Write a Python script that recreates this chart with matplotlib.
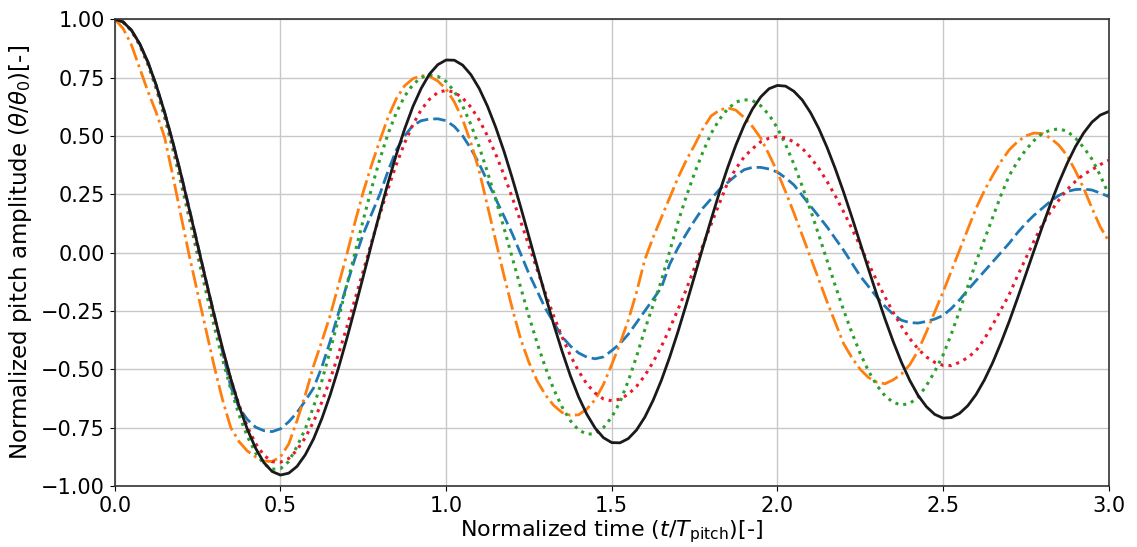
import matplotlib
matplotlib.use("Agg")
import matplotlib.pyplot as plt
import numpy as np

# normalized time grid, step 0.025
t = np.linspace(0, 3.0, 121)

# values, one per time step
blue = [1.0, 0.988, 0.953, 0.894, 0.815, 0.716, 0.602, 0.474, 0.335, 0.188,
        0.035, -0.118, -0.265, -0.425, -0.575, -0.665, -0.715, -0.748, -0.763, -0.767,
        -0.755, -0.725, -0.685, -0.635, -0.58, -0.49, -0.38, -0.26, -0.14, -0.025,
        0.08, 0.165, 0.25, 0.35, 0.44, 0.50, 0.545, 0.565, 0.572, 0.573,
        0.565, 0.54, 0.50, 0.445, 0.38, 0.305, 0.23, 0.155, 0.08, -0.005,
        -0.09, -0.165, -0.24, -0.30, -0.36, -0.40, -0.43, -0.448, -0.455, -0.447,
        -0.42, -0.39, -0.35, -0.30, -0.25, -0.20, -0.15, -0.05, 0.02, 0.08,
        0.137, 0.19, 0.23, 0.27, 0.30, 0.33, 0.355, 0.365, 0.365, 0.358,
        0.345, 0.32, 0.29, 0.245, 0.20, 0.155, 0.11, 0.06, 0.01, -0.045,
        -0.10, -0.145, -0.19, -0.23, -0.265, -0.29, -0.30, -0.302, -0.295, -0.285,
        -0.27, -0.24, -0.203, -0.16, -0.12, -0.08, -0.04, 0.0, 0.04, 0.085,
        0.125, 0.16, 0.19, 0.22, 0.245, 0.262, 0.27, 0.272, 0.268, 0.255,
        0.24]
orange = [1.0, 0.96, 0.89, 0.79, 0.69, 0.60, 0.495, 0.33, 0.155, -0.015,
          -0.173, -0.33, -0.487, -0.63, -0.75, -0.81, -0.85, -0.875, -0.893, -0.895,
          -0.875, -0.82, -0.72, -0.61, -0.485, -0.38, -0.27, -0.14, -0.01, 0.13,
          0.26, 0.375, 0.48, 0.58, 0.66, 0.715, 0.745, 0.758, 0.755, 0.735,
          0.70, 0.645, 0.57, 0.47, 0.35, 0.20, 0.05, -0.10, -0.24, -0.37,
          -0.47, -0.55, -0.61, -0.655, -0.685, -0.697, -0.695, -0.67, -0.63, -0.565,
          -0.48, -0.39, -0.29, -0.17, -0.03, 0.065, 0.15, 0.235, 0.32, 0.395,
          0.46, 0.53, 0.585, 0.61, 0.62, 0.61, 0.578, 0.54, 0.49, 0.42,
          0.345, 0.26, 0.17, 0.075, -0.02, -0.115, -0.21, -0.30, -0.39, -0.45,
          -0.50, -0.535, -0.555, -0.562, -0.545, -0.52, -0.48, -0.42, -0.34, -0.255,
          -0.17, -0.08, 0.01, 0.10, 0.19, 0.265, 0.33, 0.39, 0.44, 0.475,
          0.50, 0.512, 0.51, 0.49, 0.46, 0.415, 0.35, 0.275, 0.19, 0.11,
          0.05]
green = [1.0, 0.987, 0.950, 0.888, 0.805, 0.701, 0.580, 0.443, 0.297, 0.144,
         -0.012, -0.166, -0.317, -0.457, -0.585, -0.695, -0.787, -0.858, -0.906, -0.928,
         -0.926, -0.895, -0.83, -0.755, -0.66, -0.55, -0.42, -0.285, -0.14, 0.0,
         0.14, 0.275, 0.40, 0.51, 0.60, 0.67, 0.72, 0.75, 0.76, 0.755,
         0.733, 0.690, 0.628, 0.548, 0.453, 0.345, 0.228, 0.104, -0.023, -0.149,
         -0.272, -0.388, -0.493, -0.586, -0.661, -0.720, -0.760, -0.778, -0.776, -0.75,
         -0.705, -0.64, -0.55, -0.445, -0.33, -0.225, -0.12, 0.005, 0.13, 0.24,
         0.34, 0.43, 0.51, 0.57, 0.615, 0.645, 0.655, 0.651, 0.629, 0.590,
         0.534, 0.463, 0.379, 0.285, 0.183, 0.076, -0.033, -0.142, -0.246, -0.343,
         -0.431, -0.507, -0.568, -0.614, -0.642, -0.653, -0.646, -0.62, -0.57, -0.51,
         -0.44, -0.35, -0.25, -0.145, -0.04, 0.055, 0.15, 0.245, 0.33, 0.39,
         0.44, 0.48, 0.51, 0.525, 0.53, 0.52, 0.49, 0.45, 0.40, 0.33,
         0.25]
red = [1.0, 0.988, 0.952, 0.892, 0.811, 0.711, 0.594, 0.462, 0.320, 0.172,
       0.02, -0.132, -0.278, -0.416, -0.543, -0.653, -0.746, -0.818, -0.868, -0.896,
       -0.898, -0.882, -0.846, -0.793, -0.724, -0.640, -0.543, -0.436, -0.321, -0.200,
       -0.078, 0.044, 0.163, 0.274, 0.378, 0.470, 0.549, 0.612, 0.657, 0.686,
       0.695, 0.687, 0.662, 0.623, 0.568, 0.500, 0.421, 0.332, 0.235, 0.134,
       0.030, -0.074, -0.175, -0.272, -0.361, -0.440, -0.508, -0.563, -0.602, -0.627,
       -0.635, -0.628, -0.607, -0.573, -0.527, -0.469, -0.402, -0.326, -0.244, -0.158,
       -0.065, 0.03, 0.12, 0.21, 0.30, 0.36, 0.41, 0.445, 0.475, 0.490,
       0.497, 0.491, 0.474, 0.447, 0.408, 0.361, 0.305, 0.243, 0.175, 0.103,
       0.028, -0.046, -0.120, -0.190, -0.257, -0.316, -0.369, -0.413, -0.447, -0.470,
       -0.483, -0.484, -0.47, -0.45, -0.42, -0.37, -0.31, -0.245, -0.18, -0.10,
       -0.025, 0.05, 0.12, 0.175, 0.225, 0.27, 0.305, 0.335, 0.355, 0.377,
       0.395]
black = [1.0, 0.988, 0.953, 0.895, 0.816, 0.717, 0.602, 0.473, 0.333, 0.184,
         0.033, -0.119, -0.268, -0.409, -0.540, -0.657, -0.757, -0.838, -0.900, -0.938,
         -0.953, -0.945, -0.916, -0.866, -0.798, -0.711, -0.610, -0.495, -0.370, -0.238,
         -0.102, 0.036, 0.171, 0.300, 0.421, 0.530, 0.626, 0.704, 0.765, 0.805,
         0.825, 0.824, 0.803, 0.762, 0.703, 0.627, 0.536, 0.433, 0.318, 0.196,
         0.069, -0.059, -0.186, -0.308, -0.422, -0.527, -0.618, -0.693, -0.752, -0.793,
         -0.814, -0.815, -0.797, -0.760, -0.705, -0.633, -0.547, -0.448, -0.339, -0.222,
         -0.101, 0.021, 0.141, 0.257, 0.364, 0.461, 0.546, 0.615, 0.667, 0.702,
         0.716, 0.713, 0.691, 0.654, 0.600, 0.532, 0.451, 0.359, 0.259, 0.152,
         0.041, -0.070, -0.179, -0.284, -0.382, -0.471, -0.548, -0.612, -0.660, -0.693,
         -0.709, -0.707, -0.689, -0.656, -0.608, -0.546, -0.472, -0.387, -0.295, -0.196,
         -0.094, 0.009, 0.111, 0.209, 0.300, 0.382, 0.454, 0.513, 0.559, 0.589,
         0.604]

fig = plt.figure(figsize=(11.37, 5.47), dpi=100)
ax = fig.add_axes([0.101, 0.1115, 0.874, 0.8535])

ax.plot(t, blue, color='#1f77b4', linestyle=(0, (4.5, 1.8)), linewidth=2)
ax.plot(t, orange, color='#ff7f0e', linestyle='-.', linewidth=2)
ax.plot(t, green, color='#2ca02c', linestyle=':', linewidth=2.2)
ax.plot(t, red, color='#e8192c', linestyle=':', linewidth=2.2)
ax.plot(t, black, color='#1a1a1a', linestyle='-', linewidth=2)

ax.set_xlim(0, 3.0)
ax.set_ylim(-1.0, 1.0)
ax.set_xticks(np.arange(0, 3.01, 0.5))
ax.set_yticks(np.arange(-1.0, 1.01, 0.25))
ax.grid(True, color='#c8c8c8', linewidth=1)
ax.tick_params(labelsize=15)
for s in ax.spines.values():
    s.set_color('#333333')
    s.set_linewidth(1.2)

ax.set_xlabel(r'Normalized time ($t/T_{\mathrm{pitch}}$)[-]', fontsize=16, labelpad=2)
ax.set_ylabel(r'Normalized pitch amplitude ($\theta/\theta_0$)[-]', fontsize=16.5, labelpad=5)

fig.savefig('out.png', dpi=100)
